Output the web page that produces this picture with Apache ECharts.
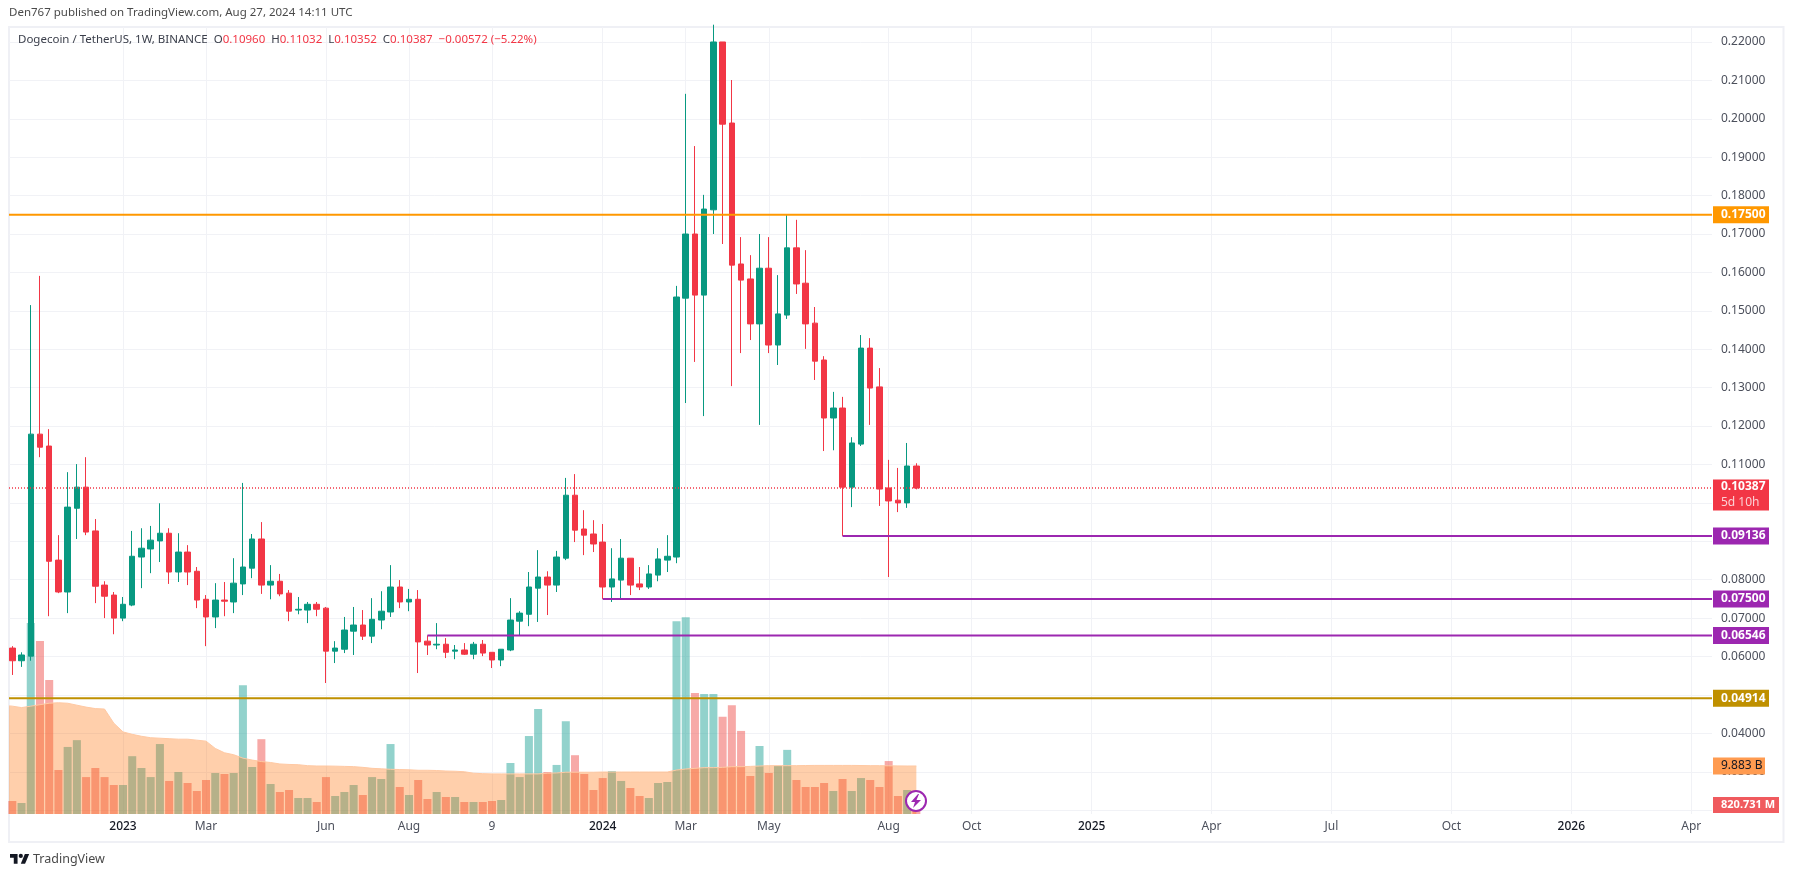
<!DOCTYPE html>
<html><head><meta charset="utf-8">
<style>html,body{margin:0;padding:0;background:#fff}#c{width:1794px;height:877px}</style>
<script src="https://cdn.jsdelivr.net/npm/echarts@6/dist/echarts.min.js"></script>
</head><body><div id="c"></div>
<script>
const opens=[.0622,.0589,.0601,.1179,.1148,.0851,.0768,.0986,.1041,.0927,.0786,.0760,.0700,.0734,.0859,.0880,.0901,.0921,.0820,.0872,.0822,.0749,.0703,.0747,.0742,.0789,.0830,.0906,.0786,.0796,.0765,.0721,.0721,.0736,.0726,.0614,.0619,.0666,.0682,.0653,.0695,.0716,.0781,.0742,.0749,.0640,.0630,.0632,.0614,.0617,.0606,.0632,.0611,.0591,.0617,.0692,.0710,.0778,.0807,.0786,.0856,.1020,.0932,.0919,.0898,.0781,.0799,.0856,.0789,.0781,.0812,.0851,.0859,.1533,.1700,.1541,.1763,.2200,.1989,.1622,.1583,.1466,.1611,.1411,.1489,.1664,.1572,.1468,.1372,.1221,.1247,.1041,.1153,.1403,.1302,.1039,.1007,.1000,.1096];
const highs=[.0627,.0611,.1515,.1591,.1192,.0916,.1080,.1101,.1119,.0958,.0796,.0768,.0755,.0927,.0934,.0940,.0999,.0934,.0921,.0890,.0833,.0760,.0791,.0794,.0856,.1052,.0919,.0950,.0838,.0815,.0773,.0755,.0742,.0742,.0729,.0640,.0703,.0729,.0721,.0752,.0770,.0838,.0799,.0776,.0773,.0655,.0687,.0648,.0630,.0635,.0638,.0643,.0611,.0619,.0752,.0718,.0820,.0877,.0822,.0875,.1065,.1075,.0981,.0955,.0945,.0882,.0906,.0856,.0833,.0838,.0882,.0916,.1565,.2065,.1929,.1802,.2245,.2200,.2101,.1692,.1645,.1700,.1692,.1593,.1750,.1737,.1658,.1510,.1382,.1289,.1276,.1171,.1437,.1429,.1351,.1112,.1091,.1156,.11032];
const lows=[.0552,.0573,.0589,.1119,.0705,.0765,.0713,.0906,.0916,.0739,.0700,.0658,.0692,.0731,.0778,.0817,.0846,.0789,.0794,.0786,.0726,.0627,.0674,.0705,.0713,.0760,.0804,.0763,.0749,.0757,.0692,.0710,.0687,.0705,.0531,.0583,.0609,.0604,.0643,.0635,.0671,.0703,.0726,.0718,.0557,.0604,.0619,.0596,.0593,.0604,.0593,.0601,.0570,.0575,.0614,.0655,.0679,.0690,.0708,.0768,.0851,.0898,.0864,.0872,.0750,.0742,.0752,.0760,.0773,.0776,.0796,.0820,.0843,.1260,.1367,.1226,.1700,.1674,.1304,.1390,.1424,.1203,.1390,.1359,.1479,.1544,.1401,.1320,.1135,.1137,.0914,.0989,.1148,.1203,.0992,.0807,.0976,.0987,.10352];
const closes=[.0589,.0604,.1179,.1145,.0848,.0768,.0989,.1041,.0924,.0783,.0757,.0700,.0736,.0861,.0882,.0903,.0921,.0820,.0872,.0820,.0747,.0703,.0747,.0744,.0791,.0833,.0906,.0786,.0796,.0763,.0718,.0723,.0736,.0723,.0614,.0622,.0669,.0682,.0653,.0697,.0718,.0781,.0742,.0749,.0638,.0630,.0632,.0611,.0617,.0606,.0632,.0609,.0591,.0619,.0695,.0713,.0781,.0807,.0786,.0859,.1020,.0929,.0916,.0893,.0781,.0802,.0856,.0786,.0781,.0815,.0854,.0861,.1536,.1700,.1541,.1765,.2200,.1986,.1619,.1580,.1466,.1611,.1411,.1492,.1664,.1570,.1466,.1369,.1221,.1247,.1041,.1156,.1403,.1299,.1036,.1005,.1000,.1096,.10387];
const volumes=[2.68,2.26,39.3,35.6,27.6,9.06,13.8,15.2,7.6,9.47,7.6,5.97,5.97,11.9,9.47,7.6,14.4,6.8,8.64,6.38,4.73,7.0,8.44,8.23,8.44,26.5,9.67,15.4,6.17,4.53,4.94,3.29,3.29,2.47,7.6,3.7,4.53,5.97,3.91,7.6,7.2,14.4,5.56,3.91,7.0,3.09,4.53,3.5,3.5,2.47,2.47,2.47,2.68,2.88,10.5,7.6,16.05,21.6,8.64,10.1,19.1,12.1,8.23,4.94,7.4,8.85,6.8,5.35,3.7,3.29,6.38,6.59,39.7,40.5,24.9,24.7,24.7,20.0,22.4,17.1,7.82,14.0,8.44,9.88,13.2,7.0,5.56,5.56,6.38,4.73,7.2,4.73,7.4,7.0,5.56,10.9,3.7,4.94,.8207];
const volumeMA=[22.2,21.9,22.2,22.5,22.8,22.9,22.8,22.4,22.0,21.7,21.6,18.7,16.9,16.4,16.0,15.7,15.6,15.5,15.4,15.4,15.2,15.0,13.5,12.6,12.2,11.5,11.1,10.8,10.6,10.3,10.2,10.15,9.95,9.88,9.88,9.85,9.8,9.75,9.6,9.4,9.3,9.2,9.15,9.1,9.0,9.0,8.95,8.85,8.8,8.7,8.4,8.3,8.25,8.25,8.25,8.25,8.25,8.25,8.4,8.45,8.6,8.6,8.6,8.6,8.64,8.64,8.64,8.64,8.64,8.64,8.64,8.64,9.05,9.26,9.4,9.54,9.54,9.6,9.74,9.74,9.8,9.88,9.95,9.95,9.95,9.95,9.98,10.0,10.0,10.0,10.0,10.0,9.98,9.95,9.95,9.92,9.9,9.88,9.883];
const volumeMAAtLeftEdge=22.25;
const priceTicks=[.02,.03,.04,.05,.06,.07,.08,.09,.10,.11,.12,.13,.14,.15,.16,.17,.18,.19,.20,.21,.22];
const priceLabels=[.03,.04,.06,.07,.08,.11,.12,.13,.14,.15,.16,.17,.18,.19,.20,.21,.22];
const timeTicks=['2023-01-02','2023-03-06','2023-06-05','2023-08-07','2023-10-09','2024-01-01','2024-03-04','2024-05-06','2024-08-05','2024-10-07','2025-01-06','2025-04-07','2025-07-07','2025-10-06','2026-01-05','2026-04-06'];
const timeLabels=['2023','Mar','Jun','Aug','9','2024','Mar','May','Aug','Oct','2025','Apr','Jul','Oct','2026','Apr'];
const WEEK=7*864e5, firstWeek=Date.UTC(2022,9,10);
const weeks=closes.map((_,i)=>i);
const lastWeek=weeks[weeks.length-1];
const xMin=-3.3/9.225, xMax=xMin+1703/9.225;
const tickWeeks=timeTicks.map(s=>Math.round((Date.parse(s+'T00:00:00Z')-firstWeek)/WEEK));
const FONT='"Noto Sans"';
const UP='#089981', DOWN='#F23645';

function level(name,value,startIdx,color,width,text){
  return {name,type:'line',xAxisIndex:0,yAxisIndex:0,z:6,silent:true,symbol:'none',
    data:[[startIdx<0?xMin:startIdx,value],[xMax,value]],
    lineStyle:{color,width},
    endLabel:{show:true,formatter:text,distance:1,color:'#fff',fontFamily:FONT,fontSize:12,fontWeight:'bold',
      backgroundColor:color,width:48,height:17,lineHeight:17,padding:[0,0,0,8],align:'left',verticalAlign:'middle'}};
}

const chart=echarts.init(document.getElementById('c'),null,{renderer:'canvas'});
chart.setOption({
  animation:false,backgroundColor:'#fff',
  title:[
   {text:'Den767 published on TradingView.com, Aug 27, 2024 14:11 UTC',left:9,top:7,padding:0,
    textStyle:{fontFamily:FONT,fontSize:11.5,fontWeight:'normal',color:'#4a4a4a'}},
   {text:'{t|Dogecoin / TetherUS, 1W, BINANCE}  {k|O}{r|0.10960}  {k|H}{r|0.11032}  {k|L}{r|0.10352}  {k|C}{r|0.10387}  {r|\u22120.00572 (\u22125.22%)}',
    left:18,top:34,padding:0,
    textStyle:{fontFamily:FONT,fontSize:11.5,fontWeight:'normal',
      rich:{t:{color:'#3a3e4a',fontFamily:FONT,fontSize:11.5},k:{color:'#3a3e4a',fontFamily:FONT,fontSize:11.5},r:{color:'#F23645',fontFamily:FONT,fontSize:11.5}}}}
  ],
  grid:[{left:9,right:82,top:27,bottom:63},{left:9,right:82,top:27,bottom:63}],
  xAxis:[0,1].map(g=>({type:'value',gridIndex:g,min:xMin,max:xMax,show:g===0,
    axisLine:{show:false},
    axisTick:{show:false,customValues:tickWeeks},
    splitLine:{show:g===0,lineStyle:{color:'#F1F2F6',width:1}},
    axisLabel:{show:g===0,customValues:tickWeeks,margin:7,hideOverlap:false,fontFamily:FONT,fontSize:12,
      formatter:(v)=>{const l=timeLabels[tickWeeks.indexOf(v)]; return /^\d{4}$/.test(l)?'{y|'+l+'}':'{m|'+l+'}';},
      rich:{y:{color:'#131722',fontFamily:FONT,fontSize:12,fontWeight:500},m:{color:'#4c505c',fontFamily:FONT,fontSize:12}}}})),
  yAxis:[
   {type:'value',gridIndex:0,position:'right',min:.019,max:.2239,
    axisLine:{show:false},axisTick:{show:false,customValues:priceTicks},
    splitLine:{show:true,lineStyle:{color:'#F1F2F6',width:1}},
    axisLabel:{customValues:priceLabels,margin:9,color:'#4c505c',fontFamily:FONT,fontSize:12,formatter:v=>v.toFixed(5),showMinLabel:true,showMaxLabel:true,hideOverlap:false}},
   {type:'value',gridIndex:1,min:0,max:162,show:false,splitLine:{show:false}}
  ],
  series:[
   {name:'Volume',type:'bar',xAxisIndex:1,yAxisIndex:1,barWidth:8,z:1,silent:true,
    data:volumes.map((v,i)=>({value:[weeks[i],v],itemStyle:{color:closes[i]>=opens[i]?'rgba(38,166,154,.5)':'rgba(239,83,80,.5)'}}))},
   {name:'Volume MA',type:'line',xAxisIndex:1,yAxisIndex:1,z:2,silent:true,symbol:'none',
    data:[[xMin,volumeMAAtLeftEdge]].concat(volumeMA.map((v,i)=>[weeks[i],v])),lineStyle:{color:'#FFC9A3',width:1},
    areaStyle:{color:'rgba(255,109,0,.33)',opacity:1}},
   {name:'DOGEUSDT',type:'candlestick',xAxisIndex:0,yAxisIndex:0,z:3,silent:true,barWidth:6,
    encode:{x:0,y:[1,2,3,4]},
    data:opens.map((o,i)=>[weeks[i],o,closes[i],lows[i],highs[i]]),
    itemStyle:{color:UP,color0:DOWN,borderColor:UP,borderColor0:DOWN,borderWidth:1}},
   level('0.175',.175,-1,'#FF9800',2,'0.17500'),
   level('0.09136',.09136,90,'#9C27B0',2,'0.09136'),
   level('0.075',.075,64,'#9C27B0',2,'0.07500'),
   level('0.06546',.06546,45,'#9C27B0',2,'0.06546'),
   level('0.04914',.04914,-1,'#BF9000',2,'0.04914'),
   {name:'Last price',type:'line',xAxisIndex:0,yAxisIndex:0,z:6,silent:true,symbol:'none',
    data:[[xMin,.10387],[xMax,.10387]],lineStyle:{color:DOWN,width:1.5,type:[1,2]},
    endLabel:{show:true,distance:1,offset:[0,7],backgroundColor:DOWN,padding:[0,0,0,8],align:'left',verticalAlign:'middle',
      formatter:'{a|0.10387}\n{b|5d 10h}',
      rich:{a:{color:'#fff',fontFamily:FONT,fontSize:12,fontWeight:'bold',width:48,height:15,lineHeight:15},
            b:{color:'#fbd0d4',fontFamily:FONT,fontSize:12,width:48,height:16,lineHeight:16}}}},
   {name:'MA tag',type:'line',xAxisIndex:1,yAxisIndex:1,z:6,silent:true,symbol:'none',
    data:[[lastWeek,9.883],[xMax,9.883]],lineStyle:{opacity:0},
    endLabel:{show:true,formatter:'9.883 B',distance:1,color:'#131722',fontFamily:FONT,fontSize:12,
      backgroundColor:'#FF9B50',width:44,height:17,lineHeight:17,padding:[0,0,0,8],align:'left',verticalAlign:'middle'}},
   {name:'Volume tag',type:'line',xAxisIndex:1,yAxisIndex:1,z:6,silent:true,symbol:'none',
    data:[[lastWeek,.8207],[xMax,.8207]],lineStyle:{opacity:0},
    endLabel:{show:true,formatter:'820.731 M',distance:1,offset:[0,-5],color:'#fff',fontFamily:FONT,fontSize:11,fontWeight:'bold',
      backgroundColor:'#F05A5E',width:58,height:16,lineHeight:16,padding:[0,0,0,8],align:'left',verticalAlign:'middle'}}
  ],
  graphic:[
   {type:'rect',z:0,silent:true,shape:{x:9,y:27,width:1774.5,height:815},style:{fill:'transparent',stroke:'#EFF0F5',lineWidth:2}},
   {type:'circle',z:20,silent:true,shape:{cx:916,cy:801,r:10},style:{fill:'#fff',stroke:'#9C27B0',lineWidth:2}},
   {type:'polygon',z:21,silent:true,shape:{points:[[918,794],[911,802],[915,802],[913,808],[921,800],[916.5,800],[919,794]]},style:{fill:'#9C27B0'}},
   {type:'polygon',z:5,silent:true,shape:{points:[[17.56,863.7],[13.78,863.7],[13.78,857.8],[10,857.8],[10,854],[17.56,854]]},style:{fill:'#131722'}},
   {type:'polygon',z:5,silent:true,shape:{points:[[25.1,863.7],[20.8,863.7],[24.85,854],[29.17,854]]},style:{fill:'#131722'}},
   {type:'circle',z:5,silent:true,shape:{cx:20.8,cy:855.9,r:2.1},style:{fill:'#131722'}},
   {type:'text',z:5,silent:true,x:33,y:859,style:{text:'TradingView',fontFamily:FONT,fontSize:12.5,fill:'#4a4a4a',verticalAlign:'middle',align:'left'}}
  ]
});
</script></body></html>
